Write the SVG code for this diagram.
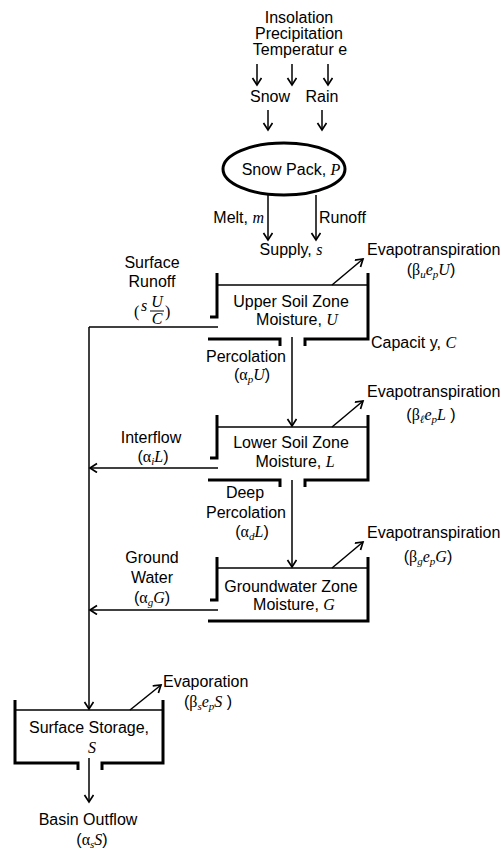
<svg xmlns="http://www.w3.org/2000/svg" width="501" height="851" viewBox="0 0 501 851">
<style>
text{font-family:"Liberation Sans",Arial,sans-serif;font-size:16px;fill:#000}
.m{text-anchor:middle}
.v{font-family:"Liberation Serif","Times New Roman",serif;font-style:italic}
.g{font-family:"Liberation Serif","Times New Roman",serif}
.thin{stroke:#000;stroke-width:1.5;fill:none}
.thick{stroke:#000;stroke-width:3;fill:none}
.arr{stroke:#000;stroke-width:1.5;fill:none;marker-end:url(#ah)}
</style>
<defs>
<marker id="ah" markerUnits="userSpaceOnUse" markerWidth="12" markerHeight="12" refX="8" refY="5" orient="auto">
<path d="M1,0.5 L8,5 L1,9.5" fill="none" stroke="#000" stroke-width="1.7"/>
</marker>
</defs>
<rect width="501" height="851" fill="#fff"/>

<g id="inputs">
<text class="m" x="299" y="23">Insolation</text>
<text class="m" x="299" y="39">Precipitation</text>
<text class="m" x="300" y="55">Temperatur e</text>
<text class="m" x="270" y="102">Snow</text>
<text class="m" x="322" y="102">Rain</text>
</g>

<g id="snowpack">
<ellipse cx="284" cy="169" rx="61" ry="26" fill="none" stroke="#000" stroke-width="3"/>
<text class="m" x="291" y="175">Snow Pack, <tspan class="v">P</tspan></text>
</g>

<g id="labels-snow">
<text x="264" y="223" text-anchor="end">Melt, <tspan class="v">m</tspan></text>
<text x="319" y="223">Runoff</text>
<text class="m" x="291" y="255">Supply, <tspan class="v">s</tspan></text>
</g>

<g id="upper">
<path class="thick" d="M210,317 H217 V273"/>
<path class="thin" d="M217,285 H368"/>
<path class="thick" d="M368,273 V339 H305 V346"/>
<path class="thick" d="M208,339 H280 V346"/>
<text class="m" x="291" y="307">Upper Soil Zone</text>
<text class="m" x="297" y="325">Moisture, <tspan class="v">U</tspan></text>
<text x="367" y="255">Evapotranspiration</text>
<text class="m" x="431" y="275">(<tspan class="g">β</tspan><tspan class="v" font-size="11" dy="3">u</tspan><tspan class="v" dy="-3">e</tspan><tspan class="v" font-size="11" dy="3">p</tspan><tspan class="v" dy="-3">U</tspan>)</text>
<text x="371" y="348">Capacit y, <tspan class="v">C</tspan></text>
</g>

<g id="lower">
<path class="thick" d="M210,458 H217 V415"/>
<path class="thin" d="M217,427 H368"/>
<path class="thick" d="M368,415 V480 H305 V487"/>
<path class="thick" d="M208,480 H280 V487"/>
<text class="m" x="291" y="448">Lower Soil Zone</text>
<text class="m" x="295" y="467">Moisture, <tspan class="v">L</tspan></text>
<text x="367" y="397">Evapotranspiration</text>
<text class="m" x="431" y="420">(<tspan class="g">β</tspan><tspan class="v" font-size="11" dy="3">ℓ</tspan><tspan class="v" dy="-3">e</tspan><tspan class="v" font-size="11" dy="3">p</tspan><tspan class="v" dy="-3">L</tspan> )</text>
</g>

<g id="groundwater">
<path class="thick" d="M210,600 H217 V557"/>
<path class="thin" d="M217,568 H368"/>
<path class="thick" d="M368,557 V621 H208"/>
<text class="m" x="291" y="592">Groundwater Zone</text>
<text class="m" x="294" y="610">Moisture, <tspan class="v">G</tspan></text>
<text x="367" y="538">Evapotranspiration</text>
<text class="m" x="428" y="562">(<tspan class="g">β</tspan><tspan class="v" font-size="11" dy="3">g</tspan><tspan class="v" dy="-3">e</tspan><tspan class="v" font-size="11" dy="3">p</tspan><tspan class="v" dy="-3">G</tspan>)</text>
</g>

<g id="surface">
<path class="thick" d="M15,700 V763 H78 V770"/>
<path class="thick" d="M163,700 V763 H102 V770"/>
<path class="thin" d="M15,710 H163"/>
<text class="m" x="89" y="733">Surface Storage,</text>
<text class="m v" x="92" y="753">S</text>
<text x="163" y="687">Evaporation</text>
<text class="m" x="208" y="707">(<tspan class="g">β</tspan><tspan class="v" font-size="11" dy="3">s</tspan><tspan class="v" dy="-3">e</tspan><tspan class="v" font-size="11" dy="3">p</tspan><tspan class="v" dy="-3">S</tspan> )</text>
</g>

<g id="outflow-labels">
<text class="m" x="88" y="825">Basin Outflow</text>
<text class="m" x="92" y="845">(<tspan class="g">α</tspan><tspan class="v" font-size="11" dy="3">s</tspan><tspan class="v" dy="-3">S</tspan>)</text>
</g>

<g id="flow-labels">
<text class="m" x="152" y="268">Surface</text>
<text class="m" x="152" y="287">Runoff</text>
<text class="g" x="134" y="317" font-size="21">(</text>
<text class="v" x="141" y="311">s</text>
<text class="v m" x="157" y="307">U</text>
<line x1="150" y1="311" x2="164" y2="311" stroke="#000" stroke-width="1"/>
<text class="v m" x="157" y="324">C</text>
<text class="g" x="165" y="317" font-size="21">)</text>
<text class="m" x="246" y="362">Percolation</text>
<text class="m" x="252" y="380">(<tspan class="g">α</tspan><tspan class="v" font-size="11" dy="3">p</tspan><tspan class="v" dy="-3">U</tspan>)</text>
<text class="m" x="151" y="443">Interflow</text>
<text class="m" x="153" y="462">(<tspan class="g">α</tspan><tspan class="v" font-size="11" dy="3">i</tspan><tspan class="v" dy="-3">L</tspan>)</text>
<text class="m" x="245" y="498">Deep</text>
<text class="m" x="246" y="518">Percolation</text>
<text class="m" x="252" y="537">(<tspan class="g">α</tspan><tspan class="v" font-size="11" dy="3">d</tspan><tspan class="v" dy="-3">L</tspan>)</text>
<text class="m" x="152" y="563">Ground</text>
<text class="m" x="152" y="583">Water</text>
<text class="m" x="152" y="603">(<tspan class="g">α</tspan><tspan class="v" font-size="11" dy="3">g</tspan><tspan class="v" dy="-3">G</tspan>)</text>
</g>

<g id="connectors">
<line class="arr" x1="257" y1="64" x2="257" y2="85"/>
<line class="arr" x1="292" y1="64" x2="292" y2="85"/>
<line class="arr" x1="328" y1="64" x2="328" y2="85"/>
<line class="arr" x1="268" y1="110" x2="268" y2="130"/>
<line class="arr" x1="322" y1="110" x2="322" y2="130"/>
<line class="arr" x1="268" y1="195" x2="268" y2="240"/>
<line class="arr" x1="316" y1="195" x2="316" y2="240"/>
<line class="arr" x1="292" y1="337" x2="292" y2="426"/>
<line class="arr" x1="292" y1="480" x2="292" y2="567"/>
<line class="thin" x1="218" y1="327" x2="89" y2="327"/>
<line class="arr" x1="89" y1="327" x2="89" y2="709"/>
<line class="arr" x1="218" y1="468" x2="90" y2="468"/>
<line class="arr" x1="218" y1="610" x2="90" y2="610"/>
<line class="arr" x1="89" y1="758" x2="89" y2="802"/>
<line class="arr" x1="332" y1="285" x2="363" y2="259"/>
<line class="arr" x1="332" y1="427" x2="363" y2="401"/>
<line class="arr" x1="332" y1="568" x2="363" y2="542"/>
<line class="arr" x1="130" y1="710" x2="161" y2="685"/>
</g>
</svg>
